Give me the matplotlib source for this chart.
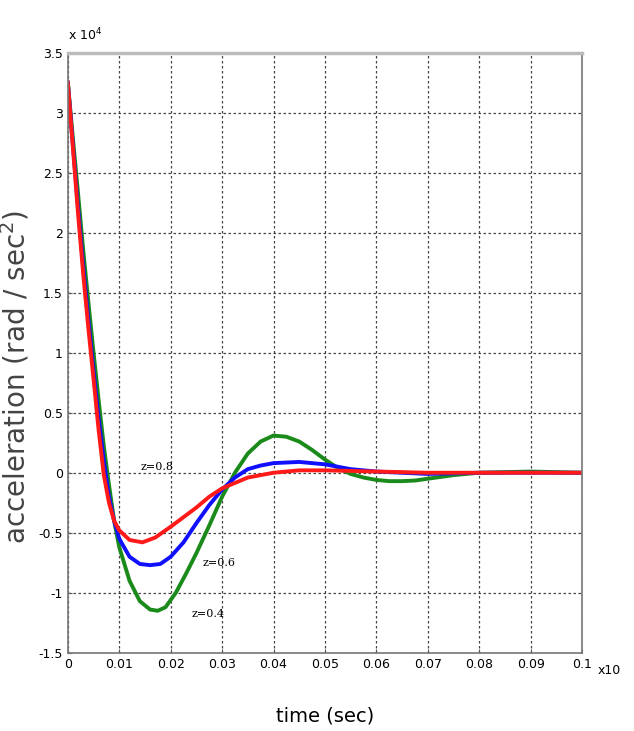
import matplotlib
matplotlib.use("Agg")
import matplotlib.pyplot as plt
import numpy as np

# values, acceleration in units of 1e4 rad/sec^2
t_green = [0, 0.001, 0.002, 0.003, 0.004, 0.005, 0.006, 0.007, 0.008, 0.009, 0.010, 0.012,
           0.014, 0.016, 0.0175, 0.019, 0.021, 0.023, 0.025, 0.0275, 0.030, 0.0325, 0.035,
           0.0375, 0.040, 0.0425, 0.045, 0.0475, 0.050, 0.0525, 0.055, 0.0575, 0.060, 0.0625,
           0.065, 0.0675, 0.070, 0.0725, 0.075, 0.080, 0.090, 0.100]
a_green = [3.25, 2.78, 2.32, 1.85, 1.42, 1.0, 0.6, 0.22, -0.1, -0.4, -0.62, -0.9,
           -1.07, -1.14, -1.15, -1.12, -1.0, -0.84, -0.67, -0.44, -0.2, 0.0, 0.16,
           0.26, 0.31, 0.30, 0.26, 0.19, 0.11, 0.04, -0.01, -0.04, -0.06, -0.07,
           -0.07, -0.065, -0.05, -0.035, -0.02, 0.0, 0.01, 0.0]

t_blue = [0, 0.001, 0.002, 0.003, 0.004, 0.005, 0.006, 0.007, 0.008, 0.009, 0.010, 0.012,
          0.014, 0.016, 0.018, 0.020, 0.0225, 0.025, 0.0275, 0.030, 0.0325, 0.035, 0.0375,
          0.040, 0.045, 0.050, 0.055, 0.060, 0.070, 0.080, 0.100]
a_blue = [3.25, 2.72, 2.2, 1.72, 1.27, 0.85, 0.45, 0.1, -0.2, -0.4, -0.55, -0.7,
          -0.76, -0.77, -0.76, -0.70, -0.58, -0.42, -0.27, -0.14, -0.04, 0.03, 0.06,
          0.08, 0.09, 0.07, 0.03, 0.01, -0.01, 0.0, 0.0]

t_red = [0, 0.001, 0.002, 0.003, 0.004, 0.005, 0.006, 0.007, 0.008, 0.009, 0.010, 0.012,
         0.0145, 0.017, 0.020, 0.0225, 0.025, 0.0275, 0.030, 0.035, 0.040, 0.045, 0.050,
         0.060, 0.070, 0.080, 0.100]
a_red = [3.25, 2.7, 2.15, 1.65, 1.2, 0.78, 0.35, -0.02, -0.25, -0.4, -0.48, -0.56,
         -0.58, -0.54, -0.45, -0.37, -0.29, -0.2, -0.13, -0.04, 0.0, 0.02, 0.02,
         0.01, 0.0, 0.0, 0.0]

xticks = np.arange(0, 0.1001, 0.01)
xlabels = ["0", "0.01", "0.02", "0.03", "0.04", "0.05", "0.06", "0.07", "0.08", "0.09", "0.1"]
yticks = np.arange(-1.5, 3.501, 0.5)
ylabels = ["-1.5", "-1", "-0.5", "0", "0.5", "1", "1.5", "2", "2.5", "3", "3.5"]

fig = plt.figure(figsize=(6.34, 7.31), dpi=100)
ax = fig.add_axes([0.107, 0.107, 0.811, 0.821])

ax.plot(t_green, a_green, color="#1a8a1a", lw=2.8)
ax.plot(t_blue, a_blue, color="#1010ff", lw=2.8)
ax.plot(t_red, a_red, color="#ff1a1a", lw=2.8)

ax.set_xlim(0, 0.1)
ax.set_ylim(-1.5, 3.5)
ax.set_xticks(xticks)
ax.set_xticklabels(xlabels, fontsize=9)
ax.set_yticks(yticks)
ax.set_yticklabels(ylabels, fontsize=9)
ax.tick_params(direction="in", length=3, color="#555555")
ax.grid(True, color="#444444", linestyle=(0, (2, 2)), linewidth=0.9)
for s in ax.spines.values():
    s.set_color("#777777")
    s.set_linewidth(1.2)
ax.spines["top"].set_linewidth(2.5)
ax.spines["top"].set_color("#bbbbbb")

ax.text(0.0142, 0.02, "z=0.8", fontsize=8, family="serif")
ax.text(0.0262, -0.78, "z=0.6", fontsize=8, family="serif")
ax.text(0.0240, -1.2, "z=0.4", fontsize=8, family="serif")

ax.text(0.0, 1.015, r"x 10$^4$", transform=ax.transAxes, fontsize=9, va="bottom")
ax.text(1.03, -0.03, "x10", transform=ax.transAxes, fontsize=9, va="center")

ax.set_xlabel("time (sec)", fontsize=14)
ax.xaxis.set_label_coords(0.5, -0.09)
ax.set_ylabel(r"acceleration (rad / sec$^2$)", fontsize=20, color="#444444")
ax.yaxis.set_label_coords(-0.07, 0.46)

fig.savefig("out.png", dpi=100)
